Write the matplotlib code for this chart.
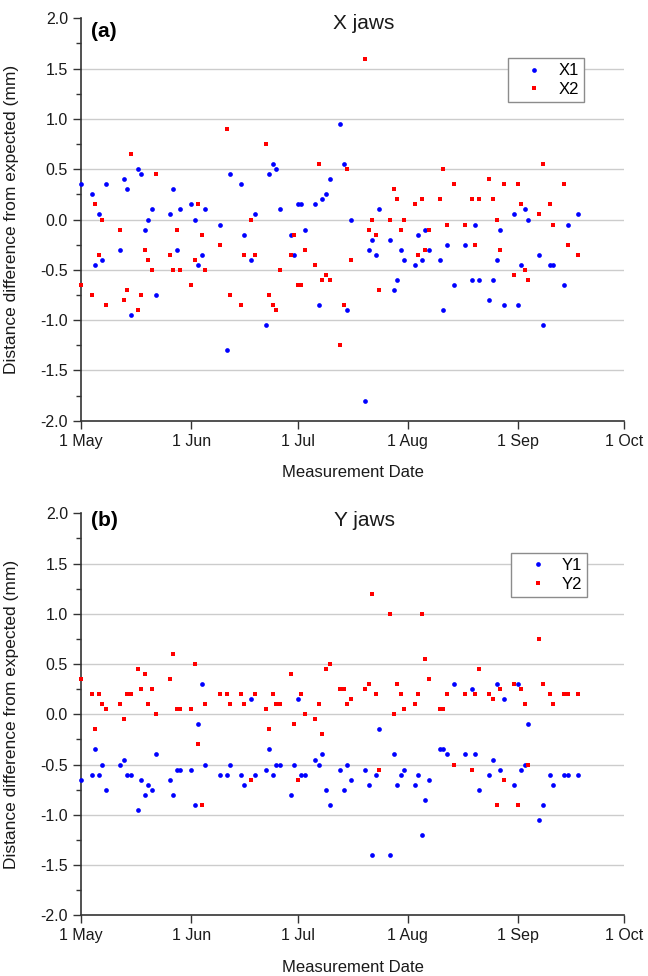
import datetime as dt

import matplotlib
matplotlib.use("Agg")
import matplotlib.pyplot as plt
import matplotlib.dates as mdates
import numpy as np
from matplotlib.ticker import MultipleLocator, FormatStrFormatter, FuncFormatter

plt.rcParams["font.family"] = ["Liberation Sans", "DejaVu Sans"]
plt.rcParams["axes.unicode_minus"] = False

# Measurement days, counted from 1 May
measurement_day = [
    0, 3, 4, 5, 6, 7, 11, 12, 13, 14, 16, 17, 18, 19, 20, 21, 25, 26, 27, 28,
    31, 32, 33, 34, 35, 39, 41, 42, 45, 46, 48, 49, 52, 53, 54, 55, 56, 59, 60,
    61, 62, 63, 66, 67, 68, 69, 70, 73, 74, 75, 76, 80, 81, 82, 83, 84, 87, 88,
    89, 90, 91, 94, 95, 96, 97, 98, 101, 102, 103, 105, 108, 110, 111, 112, 115,
    116, 117, 118, 119, 122, 123, 124, 125, 126, 129, 130, 132, 133, 136, 137, 140,
]

# Jaw position differences (mm)
x1 = [
    0.35, 0.25, -0.45, 0.05, -0.40, 0.35, -0.30, 0.40, 0.30, -0.95, 0.50, 0.45,
    -0.10, 0.00, 0.10, -0.75, 0.05, 0.30, -0.30, 0.10, 0.15, 0.00, -0.45, -0.35,
    0.10, -0.05, -1.30, 0.45, 0.35, -0.15, -0.40, 0.05, -1.05, 0.45, 0.55, 0.50,
    0.10, -0.15, -0.35, 0.15, 0.15, -0.10, 0.15, -0.85, 0.20, 0.25, 0.40, 0.95,
    0.55, -0.90, 0.00, -1.80, -0.30, -0.20, -0.35, 0.10, -0.20, -0.70, -0.60,
    -0.30, -0.40, -0.45, -0.15, -0.40, -0.10, -0.30, -0.40, -0.90, -0.25, -0.65,
    -0.25, -0.60, -0.05, -0.60, -0.80, -0.60, -0.40, -0.10, -0.85, 0.05, -0.85,
    -0.45, 0.10, 0.00, -0.35, -1.05, -0.45, -0.45, -0.65, -0.05, 0.05,
]
x2 = [
    -0.65, -0.75, 0.15, -0.35, 0.00, -0.85, -0.10, -0.80, -0.70, 0.65, -0.90,
    -0.75, -0.30, -0.40, -0.50, 0.45, -0.35, -0.50, -0.10, -0.50, -0.65, -0.40,
    0.15, -0.15, -0.50, -0.25, 0.90, -0.75, -0.85, -0.35, 0.00, -0.35, 0.75,
    -0.75, -0.85, -0.90, -0.50, -0.35, -0.15, -0.65, -0.65, -0.30, -0.45, 0.55,
    -0.60, -0.55, -0.60, -1.25, -0.85, 0.50, -0.40, 1.60, -0.10, 0.00, -0.15,
    -0.70, 0.00, 0.30, 0.20, -0.10, 0.00, 0.15, -0.35, 0.20, -0.30, -0.10, 0.20,
    0.50, -0.05, 0.35, -0.05, 0.20, -0.25, 0.20, 0.40, 0.20, 0.00, -0.30, 0.35,
    -0.55, 0.35, 0.15, -0.50, -0.60, 0.05, 0.55, 0.15, -0.05, 0.35, -0.25, -0.35,
]
y1 = [
    -0.65, -0.60, -0.35, -0.60, -0.50, -0.75, -0.50, -0.45, -0.60, -0.60, -0.95,
    -0.65, -0.80, -0.70, -0.75, -0.40, -0.65, -0.80, -0.55, -0.55, -0.55, -0.90,
    -0.10, 0.30, -0.50, -0.60, -0.60, -0.50, -0.60, -0.70, 0.15, -0.60, -0.55,
    -0.35, -0.60, -0.50, -0.50, -0.80, -0.50, 0.15, -0.60, -0.60, -0.45, -0.50,
    -0.40, -0.75, -0.90, -0.55, -0.75, -0.50, -0.65, -0.55, -0.70, -1.40, -0.60,
    -0.15, -1.40, -0.40, -0.70, -0.60, -0.55, -0.70, -0.60, -1.20, -0.85, -0.65,
    -0.35, -0.35, -0.40, 0.30, -0.40, 0.25, -0.40, -0.75, -0.60, -0.45, 0.30,
    -0.55, 0.15, -0.70, 0.30, -0.55, -0.50, -0.10, -1.05, -0.90, -0.60, -0.70,
    -0.60, -0.60, -0.60,
]
y2 = [
    0.35, 0.20, -0.15, 0.20, 0.10, 0.05, 0.10, -0.05, 0.20, 0.20, 0.45, 0.25,
    0.40, 0.10, 0.25, 0.00, 0.35, 0.60, 0.05, 0.05, 0.05, 0.50, -0.30, -0.90,
    0.10, 0.20, 0.20, 0.10, 0.20, 0.10, -0.65, 0.20, 0.05, -0.15, 0.20, 0.10,
    0.10, 0.40, -0.10, -0.65, 0.20, 0.00, -0.05, 0.10, -0.20, 0.45, 0.50, 0.25,
    0.25, 0.10, 0.15, 0.25, 0.30, 1.20, 0.20, -0.55, 1.00, 0.00, 0.30, 0.20,
    0.05, 0.10, 0.20, 1.00, 0.55, 0.35, 0.05, 0.05, 0.20, -0.50, 0.20, -0.55,
    0.20, 0.45, 0.20, 0.15, -0.90, 0.25, -0.65, 0.30, -0.90, 0.25, 0.10, -0.50,
    0.75, 0.30, 0.20, 0.10, 0.20, 0.20, 0.20,
]

panels = [
    ("(a)", "X jaws", ("X1", "X2"), x1, x2),
    ("(b)", "Y jaws", ("Y1", "Y2"), y1, y2),
]

START = dt.date(2015, 5, 1)
END = dt.date(2015, 10, 1)
dates = [START + dt.timedelta(days=d) for d in measurement_day]

SPINE = "#333333"


def month_label(value, pos):
    d = mdates.num2date(value)
    return f"{d.day} {d:%b}"


fig = plt.figure(figsize=(6.48, 9.76), dpi=100)
axes = [
    fig.add_axes([0.125, 0.5690, 0.8385, 0.4122]),
    fig.add_axes([0.125, 0.0622, 0.8385, 0.4119]),
]

layout = [
    dict(tag_y=0.967, title_y=0.986, leg=(0.926, 0.9006)),
    dict(tag_y=0.983, title_y=0.983, leg=(0.932, 0.9005)),
]

for ax, (tag, title, names, s1, s2), lay in zip(axes, panels, layout):
    for level in np.arange(-1.5, 1.51, 0.5):
        ax.axhline(level, color="#cccccc", lw=1.0, zorder=0)

    ax.plot(dates, s1, "o", color="#0000ff", ms=3.4, mew=0, label=names[0],
            clip_on=False, zorder=3)
    ax.plot(dates, s2, "s", color="#ff0000", ms=3.0, mew=0, label=names[1],
            clip_on=False, zorder=3)

    ax.set_xlim(START, END)
    ax.set_ylim(-2.0, 2.0)
    ax.xaxis.set_major_locator(mdates.MonthLocator())
    ax.xaxis.set_major_formatter(FuncFormatter(month_label))
    ax.yaxis.set_major_locator(MultipleLocator(0.5))
    ax.yaxis.set_minor_locator(MultipleLocator(0.25))
    ax.yaxis.set_major_formatter(FormatStrFormatter("%.1f"))

    for side in ("top", "right"):
        ax.spines[side].set_visible(False)
    for side in ("left", "bottom"):
        ax.spines[side].set_color(SPINE)
        ax.spines[side].set_linewidth(1.2)

    ax.tick_params(which="major", direction="out", length=5.8, width=1.0,
                   color=SPINE, labelsize=11.5, pad=3.5, labelcolor="#1a1a1a")
    ax.tick_params(which="minor", direction="out", length=3.6, width=1.0,
                   color=SPINE)

    ax.set_ylabel("Distance difference from expected (mm)", fontsize=12.5,
                  color="#1a1a1a")
    ax.yaxis.set_label_coords(-0.115, 0.5)
    ax.set_xlabel("Measurement Date", fontsize=12, color="#1a1a1a")
    ax.xaxis.label.set_va("center")
    ax.xaxis.set_label_coords(0.5, -0.130)

    ax.text(0.018, lay["tag_y"], tag, transform=ax.transAxes, fontsize=15,
            fontweight="bold", ha="left", va="center")
    ax.text(0.521, lay["title_y"], title, transform=ax.transAxes, fontsize=15,
            ha="center", va="center", color="#1a1a1a")

    leg = ax.legend(loc="upper right", bbox_to_anchor=lay["leg"],
                    borderaxespad=0, fontsize=12, frameon=True, fancybox=False,
                    edgecolor="#8c8c8c", framealpha=1, borderpad=0.3,
                    handlelength=2.6, handletextpad=0.15, labelspacing=0.2,
                    numpoints=1)
    leg.get_frame().set_linewidth(1.0)

fig.savefig("out.png", dpi=100)
